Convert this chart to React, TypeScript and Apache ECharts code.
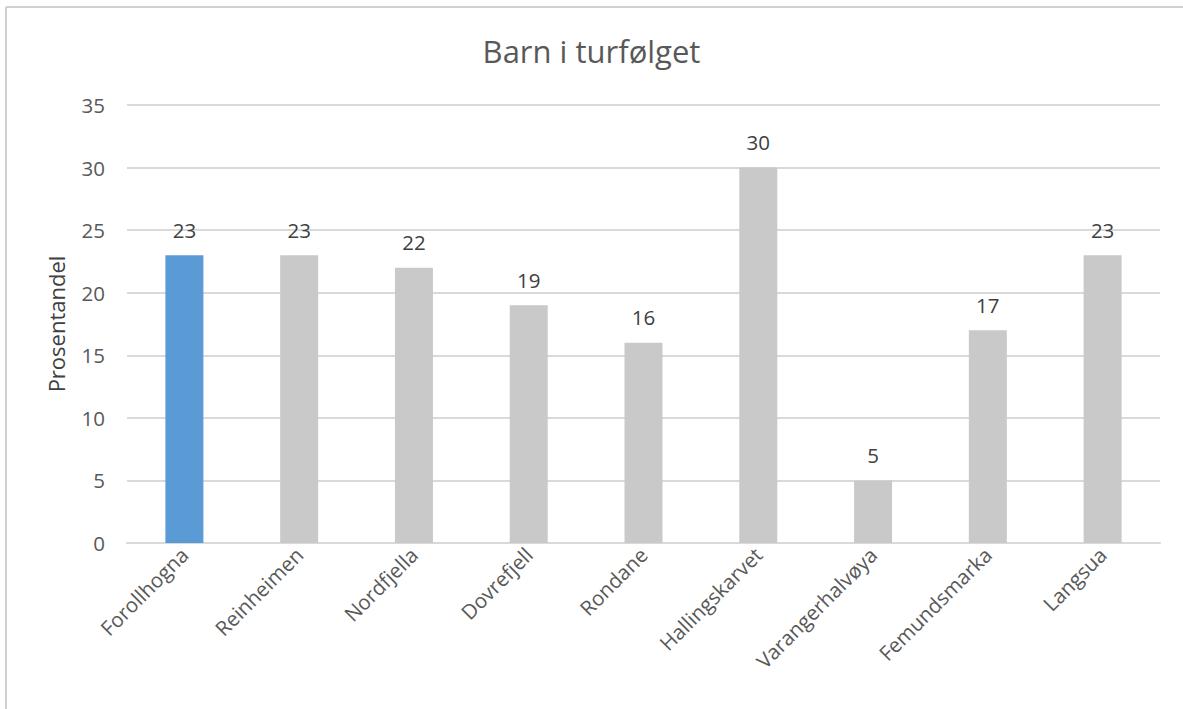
import React, { useEffect, useRef } from "react";
import * as echarts from "echarts";

const categories = ["Forollhogna", "Reinheimen", "Nordfjella", "Dovrefjell", "Rondane", "Hallingskarvet", "Varangerhalvøya", "Femundsmarka", "Langsua"];
const values = [23, 23, 22, 19, 16, 30, 5, 17, 23];
const highlightIndex = 0;
const titleText = "Barn i turfølget";
const yAxisName = "Prosentandel";

const FONT = "'Open Sans', 'Noto Sans', sans-serif";

export default function App() {
  const ref = useRef<HTMLDivElement>(null);
  useEffect(() => {
    document.body.style.margin = "0";
    const chart = echarts.init(ref.current!, undefined, { renderer: "svg" });
    chart.setOption({
      animation: false,
      backgroundColor: "#ffffff",
      title: {
        text: titleText,
        left: "center",
        top: 30,
        textStyle: { fontFamily: FONT, fontSize: 31, fontWeight: "normal", color: "#595959" },
      },
      grid: { left: 127, right: 23, top: 105, bottom: 166 },
      xAxis: {
        type: "category",
        data: categories,
        axisLine: { lineStyle: { color: "#d9d9d9", width: 2 } },
        axisTick: { show: false },
        axisLabel: { rotate: 45, fontFamily: FONT, fontSize: 20.5, color: "#595959", margin: 8 },
      },
      yAxis: {
        type: "value",
        min: 0,
        max: 35,
        interval: 5,
        name: yAxisName,
        nameLocation: "middle",
        nameGap: 60,
        nameTextStyle: { fontFamily: FONT, fontSize: 22, color: "#404040" },
        axisLine: { show: false },
        axisTick: { show: false },
        axisLabel: { fontFamily: FONT, fontSize: 20.5, color: "#595959", margin: 22 },
        splitLine: { lineStyle: { color: "#d9d9d9", width: 2 } },
      },
      series: [
        {
          type: "bar",
          data: values.map((v, i) => ({
            value: v,
            itemStyle: { color: i === highlightIndex ? "#5b9bd5" : "#c9c9c9" },
          })),
          barWidth: 38,
          label: { show: true, position: "top", distance: 15, fontFamily: FONT, fontSize: 20.5, color: "#404040" },
        },
      ],
      graphic: [
        { type: "line", shape: { x1: 6, y1: 7, x2: 1183, y2: 7 }, style: { stroke: "#d0d0d0", lineWidth: 2 } },
        { type: "line", shape: { x1: 6, y1: 7, x2: 6, y2: 709 }, style: { stroke: "#d0d0d0", lineWidth: 2 } },
      ],
    });
    return () => chart.dispose();
  }, []);
  return <div ref={ref} style={{ width: 1183, height: 709 }} />;
}
